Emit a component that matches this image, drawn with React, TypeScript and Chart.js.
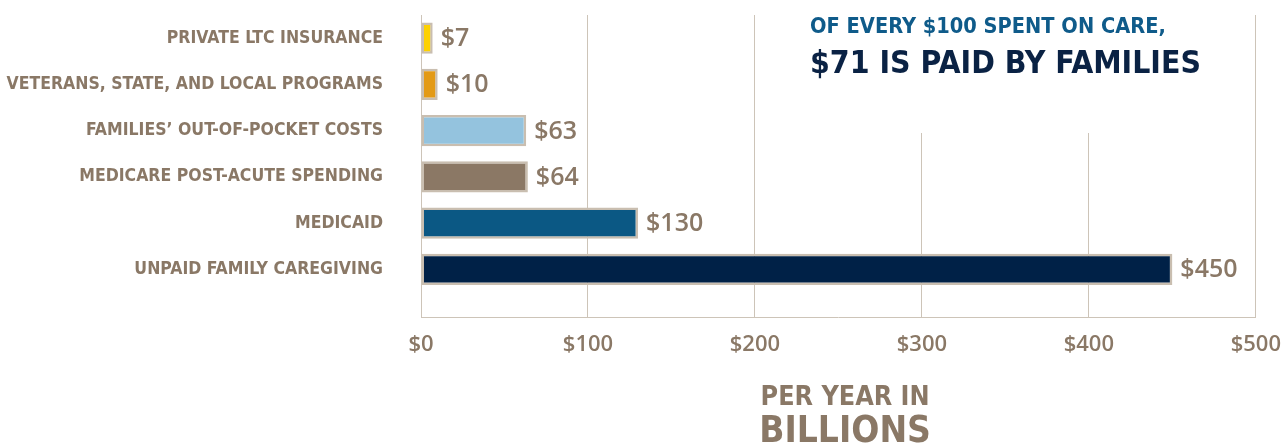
import React, { useEffect, useRef } from 'react';
import { Chart, registerables } from 'chart.js';

Chart.register(...registerables);

const categories = [
  'PRIVATE LTC INSURANCE',
  'VETERANS, STATE, AND LOCAL PROGRAMS',
  'FAMILIES’ OUT-OF-POCKET COSTS',
  'MEDICARE POST-ACUTE SPENDING',
  'MEDICAID',
  'UNPAID FAMILY CAREGIVING',
];
const values = [7, 10, 63, 64, 130, 450];
const barColors = ['#fdd100', '#e39a16', '#94c3de', '#8b7865', '#0b5884', '#002147'];
const xMin = 0;
const xMax = 500;
const xStep = 100;
const headline1 = 'OF EVERY $100 SPENT ON CARE,';
const headline2 = '$71 IS PAID BY FAMILIES';
const axisTitle1 = 'PER YEAR IN';
const axisTitle2 = 'BILLIONS';

const COND = '"Liberation Sans Narrow", "DejaVu Sans Condensed", "Arial Narrow", sans-serif';
const NUM = '"Open Sans", "Noto Sans", sans-serif';
const TAUPE = '#8a7866';
const GRID = '#cdc4b8';

const headlinePlugin = {
  id: 'headline',
  beforeDatasetsDraw(chart: any) {
    const { ctx, chartArea, scales } = chart;
    const x = scales.x;
    const boxL = x.getPixelForValue(222);
    const boxR = x.getPixelForValue(490);
    ctx.save();
    ctx.fillStyle = '#ffffff';
    ctx.fillRect(boxL, chartArea.top - 2, boxR - boxL, 120);
    const tx = x.getPixelForValue(233);
    ctx.textAlign = 'left';
    ctx.textBaseline = 'alphabetic';
    ctx.fillStyle = '#0f5b8a';
    ctx.font = `bold 21.6px ${COND}`;
    ctx.fillText(headline1, tx, chartArea.top + 18);
    ctx.fillStyle = '#0a2244';
    ctx.font = `bold 31.7px ${COND}`;
    ctx.fillText(headline2, tx, chartArea.top + 58);
    ctx.restore();
  },
};

const valueLabelPlugin = {
  id: 'valueLabels',
  afterDatasetsDraw(chart: any) {
    const { ctx } = chart;
    const meta = chart.getDatasetMeta(0);
    ctx.save();
    ctx.fillStyle = TAUPE;
    ctx.font = `600 25px ${NUM}`;
    ctx.textAlign = 'left';
    ctx.textBaseline = 'middle';
    meta.data.forEach((el: any, i: number) => {
      ctx.fillText('$' + values[i], el.x + 8, el.y + 1);
    });
    ctx.restore();
  },
};

const axisTitlePlugin = {
  id: 'axisTitle',
  afterDraw(chart: any) {
    const { ctx, scales } = chart;
    const x = scales.x;
    const cx = x.getPixelForValue(254);
    ctx.save();
    ctx.fillStyle = TAUPE;
    ctx.textAlign = 'center';
    ctx.textBaseline = 'alphabetic';
    ctx.font = `bold 26.7px ${COND}`;
    ctx.fillText(axisTitle1, cx, 405);
    ctx.font = `bold 36.8px ${COND}`;
    ctx.fillText(axisTitle2, cx, 442);
    ctx.restore();
  },
};

export default function App() {
  const canvasRef = useRef<HTMLCanvasElement | null>(null);

  useEffect(() => {
    const canvas = canvasRef.current;
    if (!canvas) return;
    const chart = new Chart(canvas, {
      type: 'bar',
      data: {
        datasets: [
          {
            data: values.map((v, i) => ({ x: v, y: i })) as any,
            backgroundColor: barColors,
            borderColor: '#c9beb0',
            borderWidth: 2.5,
            borderSkipped: false,
            categoryPercentage: 1,
            barPercentage: 0.68,
          },
        ],
      },
      options: {
        indexAxis: 'y',
        animation: false,
        responsive: true,
        maintainAspectRatio: false,
        layout: { padding: { top: 15, right: 24, bottom: 0, left: 0 } },
        plugins: {
          legend: { display: false },
          tooltip: { enabled: false },
        },
        scales: {
          x: {
            type: 'linear',
            position: 'bottom',
            min: xMin,
            max: xMax,
            bounds: 'data',
            ticks: {
              stepSize: xStep,
              padding: 0,
              color: TAUPE,
              font: { family: NUM, size: 22, weight: '600' as any },
              callback: (v: any) => '$' + v,
            },
            grid: {
              color: GRID,
              lineWidth: 1,
              drawTicks: true,
              tickLength: 15,
              tickColor: 'rgba(0,0,0,0)',
            },
            border: { color: GRID, width: 1 },
            afterFit: (s: any) => {
              s.height = 126;
            },
          },
          y: {
            type: 'linear',
            reverse: true,
            min: -0.5,
            max: 6.03,
            bounds: 'data',
            offset: false,
            afterBuildTicks: (s: any) => {
              s.ticks = categories.map((_, i) => ({ value: i }));
            },
            ticks: {
              autoSkip: false,
              padding: 0,
              color: TAUPE,
              font: { family: COND, size: 17.5, weight: 'bold' as any },
              callback: (v: any) => {
                const n = Number(v);
                return Number.isInteger(n) && n >= 0 && n < categories.length ? categories[n] : '';
              },
            },
            grid: {
              display: true,
              drawOnChartArea: false,
              drawTicks: true,
              tickLength: 38,
              color: 'rgba(0,0,0,0)',
              tickColor: 'rgba(0,0,0,0)',
            },
            border: { color: GRID, width: 1 },
            afterFit: (s: any) => {
              s.width = 421;
            },
          },
        },
      },
      plugins: [headlinePlugin, valueLabelPlugin, axisTitlePlugin],
    });
    return () => chart.destroy();
  }, []);

  return (
    <div style={{ position: 'absolute', left: 0, top: 0, width: 1281, height: 443, background: '#fff' }}>
      <canvas ref={canvasRef} />
    </div>
  );
}
